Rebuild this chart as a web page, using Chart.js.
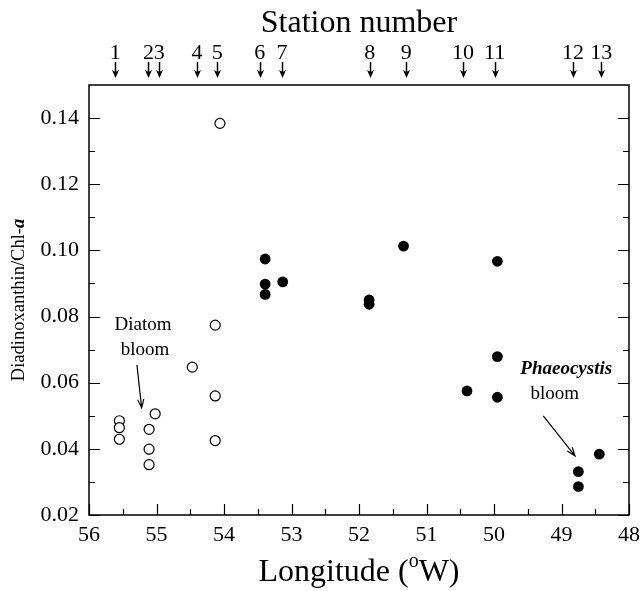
<!DOCTYPE html>
<html>
<head>
<meta charset="utf-8">
<script src="https://cdn.jsdelivr.net/npm/chart.js@4.4.0/dist/chart.umd.min.js"></script>
<style>
  body { margin: 0; background: #fff; }
</style>
</head>
<body>
<canvas id="grafico" width="642" height="591"></canvas>
<script>
// Estaciones (eje superior)
const stationNumbers = ['1', '2', '3', '4', '5', '6', '7', '8', '9', '10', '11', '12', '13'];
const stationLon = [55.61, 55.12, 54.96, 54.40, 54.10, 53.47, 53.14, 51.84, 51.30, 50.46, 49.99, 48.83, 48.41];

// Círculos abiertos (floración de diatomeas)
const diatomLon = [55.55, 55.55, 55.55, 55.11, 55.11, 55.11, 55.02, 54.47, 54.13, 54.13, 54.13, 54.06];
const diatomVal = [0.0485, 0.0464, 0.0429, 0.0459, 0.0399, 0.0352, 0.0506, 0.0647, 0.0774, 0.0560, 0.0425, 0.1384];

// Círculos llenos (Phaeocystis)
const phaeoLon = [53.39, 53.39, 53.39, 53.13, 51.85, 51.85, 51.34, 50.40, 49.95, 49.95, 49.95, 48.75, 48.75, 48.44];
const phaeoVal = [0.0974, 0.0898, 0.0867, 0.0905, 0.0850, 0.0837, 0.1013, 0.0575, 0.0967, 0.0679, 0.0556, 0.0331, 0.0286, 0.0384];

// Marcas de los ejes
const xTicks = [56, 55, 54, 53, 52, 51, 50, 49, 48];
const xMinor = [55.5, 54.5, 53.5, 52.5, 51.5, 50.5, 49.5, 48.5];
const yTicks = [0.02, 0.04, 0.06, 0.08, 0.10, 0.12, 0.14];
const yMinor = [0.03, 0.05, 0.07, 0.09, 0.11, 0.13];

const serif = '"Liberation Serif", "Times New Roman", serif';

function toPoints(xs, ys) {
    return xs.map((x, i) => ({ x: x, y: ys[i] }));
}

// Marcas hacia adentro, caja, flechas y textos
const dibujo = {
    id: 'dibujo',
    afterDraw(chart) {
        const { ctx, chartArea: a, scales } = chart;
        const sx = scales.x, sy = scales.y;
        ctx.save();
        ctx.strokeStyle = '#000';
        ctx.fillStyle = '#000';

        // caja
        ctx.lineWidth = 1.5;
        ctx.strokeRect(a.left, a.top, a.right - a.left, a.bottom - a.top);

        // marcas
        ctx.lineWidth = 1.2;
        ctx.beginPath();
        yTicks.forEach(v => {
            const p = Math.round(sy.getPixelForValue(v)) + 0.5;
            ctx.moveTo(a.left, p); ctx.lineTo(a.left + 11, p);
            ctx.moveTo(a.right, p); ctx.lineTo(a.right - 11, p);
        });
        yMinor.forEach(v => {
            const p = Math.round(sy.getPixelForValue(v)) + 0.5;
            ctx.moveTo(a.left, p); ctx.lineTo(a.left + 6, p);
            ctx.moveTo(a.right, p); ctx.lineTo(a.right - 6, p);
        });
        xTicks.forEach(v => {
            const p = Math.round(sx.getPixelForValue(v)) + 0.5;
            ctx.moveTo(p, a.bottom); ctx.lineTo(p, a.bottom - 11);
        });
        xMinor.forEach(v => {
            const p = Math.round(sx.getPixelForValue(v)) + 0.5;
            ctx.moveTo(p, a.bottom); ctx.lineTo(p, a.bottom - 6);
        });
        ctx.stroke();

        // flechas de estaciones
        stationLon.forEach(v => {
            const p = Math.round(sx.getPixelForValue(v)) + 0.5;
            ctx.beginPath();
            ctx.lineWidth = 1.5;
            ctx.moveTo(p, 62); ctx.lineTo(p, 72);
            ctx.stroke();
            ctx.beginPath();
            ctx.moveTo(p - 3.5, 70); ctx.lineTo(p, 78); ctx.lineTo(p + 3.5, 70); ctx.lineTo(p, 72);
            ctx.closePath();
            ctx.fill();
        });

        // títulos
        ctx.textBaseline = 'alphabetic';
        ctx.textAlign = 'center';
        ctx.font = '32px ' + serif;
        ctx.fillText('Station number', (a.left + a.right) / 2, 32);

        // título eje x con superíndice
        const cx = (a.left + a.right) / 2;
        const t1 = 'Longitude (', t2 = 'o', t3 = 'W)';
        ctx.font = '32px ' + serif;
        const w1 = ctx.measureText(t1).width, w3 = ctx.measureText(t3).width;
        ctx.font = '20px ' + serif;
        const w2 = ctx.measureText(t2).width;
        let x0 = cx - (w1 + w2 + w3) / 2;
        ctx.textAlign = 'left';
        ctx.font = '32px ' + serif;
        ctx.fillText(t1, x0, 581);
        ctx.font = '20px ' + serif;
        ctx.fillText(t2, x0 + w1, 567);
        ctx.font = '32px ' + serif;
        ctx.fillText(t3, x0 + w1 + w2, 581);

        // título eje y
        ctx.save();
        ctx.translate(24, (a.top + a.bottom) / 2);
        ctx.rotate(-Math.PI / 2);
        const s1 = 'Diadinoxanthin/Chl-', s2 = 'a';
        ctx.font = '18.5px ' + serif;
        const ws1 = ctx.measureText(s1).width;
        ctx.font = 'italic bold 18.5px ' + serif;
        const ws2 = ctx.measureText(s2).width;
        const y0 = -(ws1 + ws2) / 2;
        ctx.font = '18.5px ' + serif;
        ctx.fillText(s1, y0, 0);
        ctx.font = 'italic bold 18.5px ' + serif;
        ctx.fillText(s2, y0 + ws1, 0);
        ctx.restore();

        // anotaciones
        ctx.textAlign = 'center';
        ctx.textBaseline = 'middle';
        ctx.font = '19px ' + serif;
        ctx.fillText('Diatom', sx.getPixelForValue(55.2), sy.getPixelForValue(0.0775));
        ctx.fillText('bloom', sx.getPixelForValue(55.17), sy.getPixelForValue(0.070));
        ctx.font = 'italic bold 19px ' + serif;
        ctx.fillText('Phaeocystis', sx.getPixelForValue(48.93), sy.getPixelForValue(0.0642));
        ctx.font = '19px ' + serif;
        ctx.fillText('bloom', sx.getPixelForValue(49.10), sy.getPixelForValue(0.0567));

        flecha(ctx, sx.getPixelForValue(55.29), sy.getPixelForValue(0.0654),
                    sx.getPixelForValue(55.22), sy.getPixelForValue(0.0524));
        flecha(ctx, sx.getPixelForValue(49.27), sy.getPixelForValue(0.0500),
                    sx.getPixelForValue(48.80), sy.getPixelForValue(0.0379));
        ctx.restore();
    }
};

function flecha(ctx, x1, y1, x2, y2) {
    const ang = Math.atan2(y2 - y1, x2 - x1);
    const len = 9;
    ctx.beginPath();
    ctx.lineWidth = 1.2;
    ctx.moveTo(x1, y1); ctx.lineTo(x2, y2);
    ctx.moveTo(x2 - len * Math.cos(ang - 0.35), y2 - len * Math.sin(ang - 0.35));
    ctx.lineTo(x2, y2);
    ctx.lineTo(x2 - len * Math.cos(ang + 0.35), y2 - len * Math.sin(ang + 0.35));
    ctx.stroke();
}

const ctx = document.getElementById('grafico').getContext('2d');
new Chart(ctx, {
    type: 'scatter',
    data: {
        datasets: [{
            label: 'Diatom',
            data: toPoints(diatomLon, diatomVal),
            pointRadius: 5,
            pointBorderWidth: 1.2,
            borderColor: '#000',
            backgroundColor: '#fff'
        }, {
            label: 'Phaeocystis',
            data: toPoints(phaeoLon, phaeoVal),
            pointRadius: 5.4,
            pointBorderWidth: 0,
            borderColor: '#000',
            backgroundColor: '#000'
        }]
    },
    options: {
        responsive: false,
        animation: false,
        devicePixelRatio: 1,
        layout: { padding: { left: 0, right: 13, top: 0, bottom: 0 } },
        plugins: {
            legend: { display: false },
            tooltip: { enabled: false }
        },
        scales: {
            x: {
                type: 'linear',
                position: 'bottom',
                reverse: true,
                min: 48,
                max: 56,
                grid: { display: false, drawTicks: false },
                border: { display: false },
                afterBuildTicks: s => { s.ticks = xTicks.map(v => ({ value: v })); },
                afterFit: s => { s.height = 76; s.paddingLeft = 0; s.paddingRight = 0; },
                ticks: {
                    autoSkip: false,
                    maxRotation: 0,
                    padding: 7,
                    color: '#000',
                    font: { family: serif, size: 22 },
                    callback: v => String(v)
                }
            },
            x2: {
                type: 'linear',
                position: 'top',
                reverse: true,
                min: 48,
                max: 56,
                grid: { display: false, drawTicks: false },
                border: { display: false },
                afterBuildTicks: s => { s.ticks = stationLon.map(v => ({ value: v })); },
                afterFit: s => { s.height = 85; s.paddingLeft = 0; s.paddingRight = 0; },
                ticks: {
                    autoSkip: false,
                    maxRotation: 0,
                    padding: 19,
                    color: '#000',
                    font: { family: serif, size: 22 },
                    callback: (v, i) => stationNumbers[i]
                }
            },
            y: {
                type: 'linear',
                min: 0.02,
                max: 0.15,
                grid: { display: false, drawTicks: false },
                border: { display: false },
                afterBuildTicks: s => { s.ticks = yTicks.map(v => ({ value: v })); },
                afterFit: s => { s.width = 89; s.paddingTop = 0; s.paddingBottom = 0; },
                ticks: {
                    padding: 10,
                    color: '#000',
                    font: { family: serif, size: 22 },
                    callback: v => v.toFixed(2)
                }
            }
        }
    },
    plugins: [dibujo]
});
</script>
</body>
</html>
